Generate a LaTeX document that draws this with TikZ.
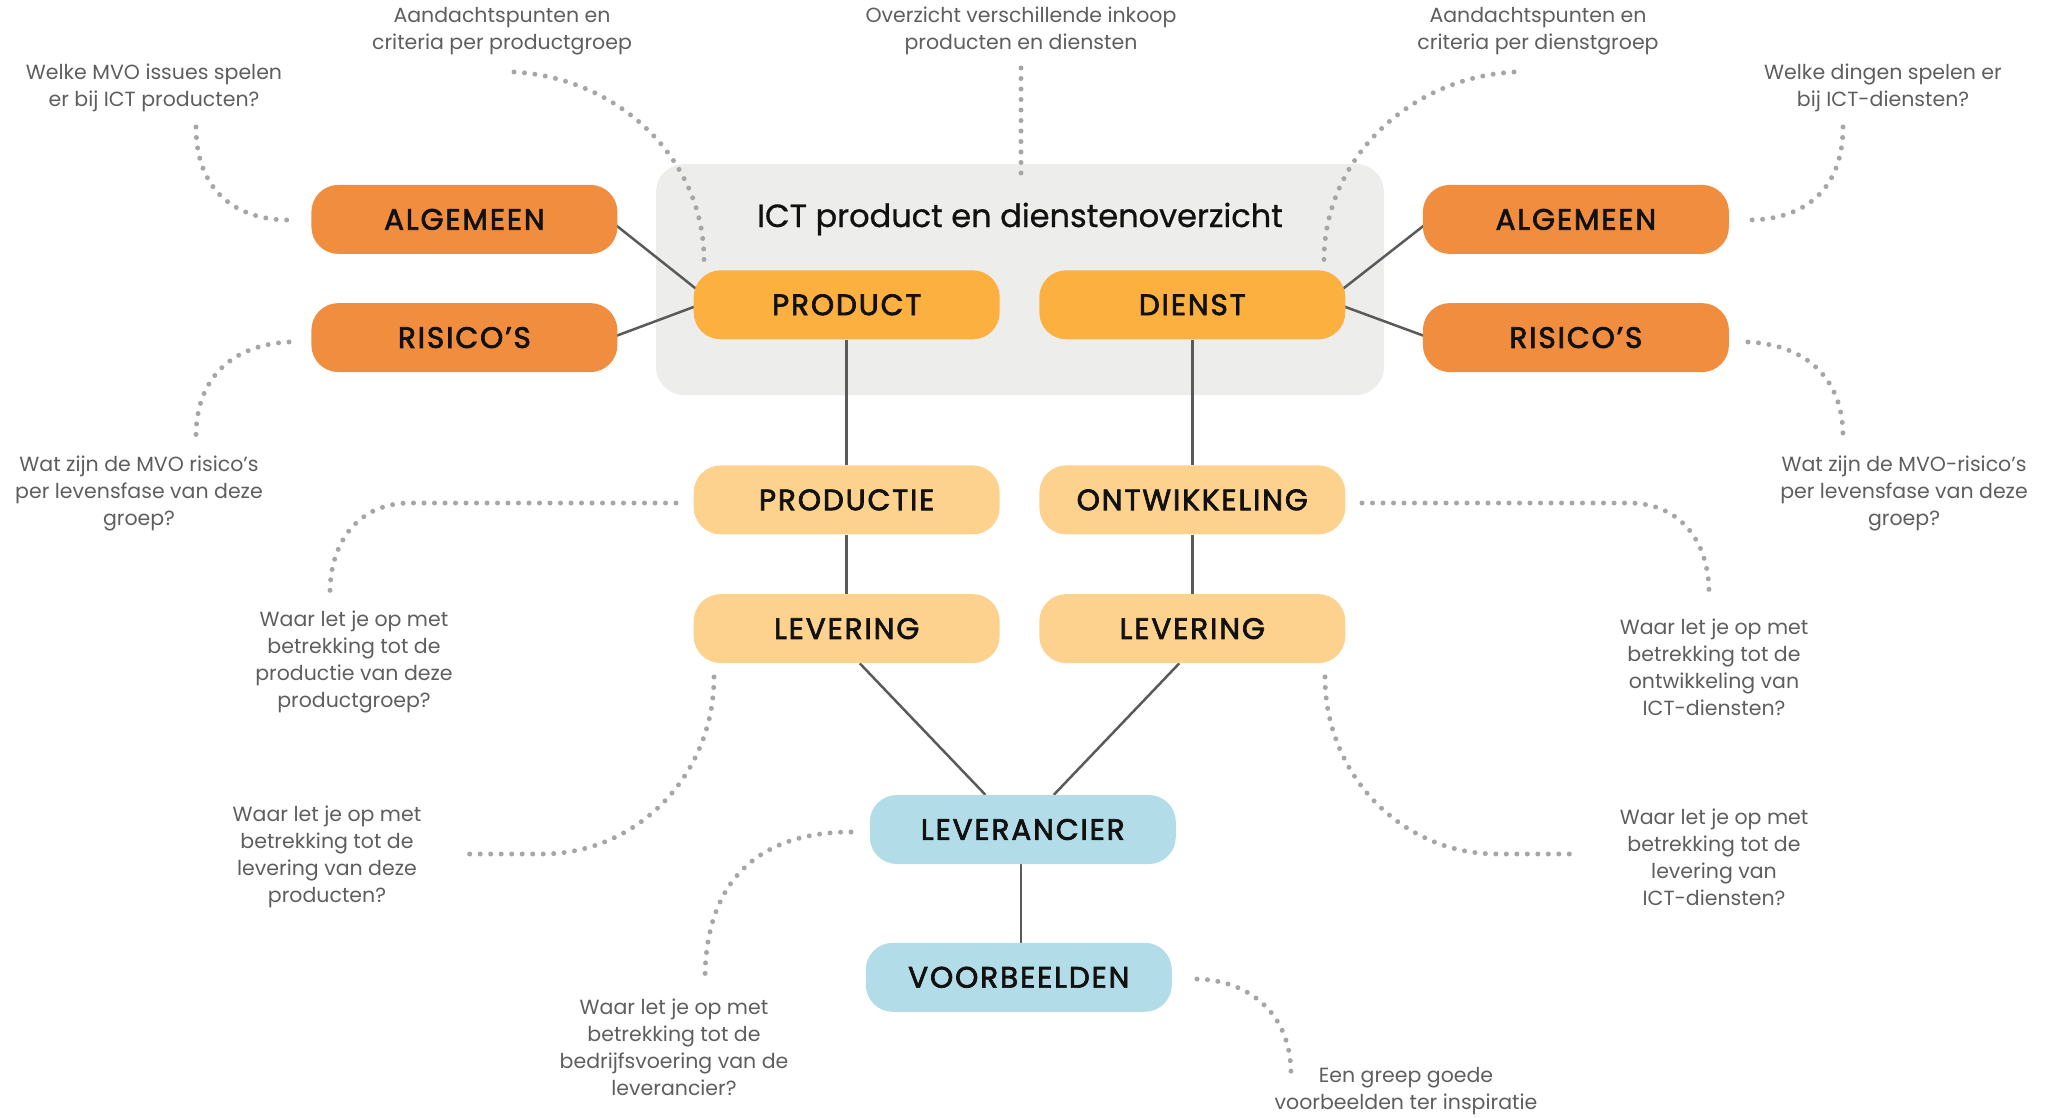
\documentclass[tikz,border=0pt]{standalone}
\usepackage{fontspec}
\setmainfont{Poppins}
\newfontfamily\labelfont{Poppins}[FakeBold=2.4, LetterSpace=6.5]
\newfontfamily\titlefont{Poppins}[FakeBold=0.8]
\usetikzlibrary{calc,backgrounds}
\definecolor{orangeA}{HTML}{F08D3F}
\definecolor{orangeB}{HTML}{FBB040}
\definecolor{orangeC}{HTML}{FDD28F}
\definecolor{blueA}{HTML}{B2DDE8}
\definecolor{greyBg}{HTML}{EDEDEB}
\definecolor{lineC}{HTML}{5A5A5A}
\definecolor{dotC}{HTML}{A6A6A6}
\definecolor{noteC}{HTML}{5E5E5E}
\definecolor{labelC}{HTML}{111111}
\begin{document}
\begin{tikzpicture}[x=1pt,y=-1pt,
  box/.style={rounded corners=27pt, minimum width=306pt, minimum height=69pt, inner sep=0pt,
    font=\labelfont\fontsize{29.5}{33}\selectfont, text=labelC},
  note/.style={align=center, inner sep=0pt, text=noteC, font=\fontsize{20.5}{27}\selectfont},
  link/.style={draw=lineC, line width=2.5pt},
  dots/.style={draw=dotC, line width=5pt, line cap=round, dash pattern=on 0pt off 10.5pt},
]
\path[use as bounding box] (0,0) rectangle (2060,1118);

% boxes
\node[box, fill=orangeA] (algL) at (464.4,219.4) {ALGEMEEN};
\node[box, fill=orangeA] (risL) at (464.4,337.6) {RISICO’S};
\node[box, fill=orangeB] (prod) at (846.7,304.8) {PRODUCT};
\node[box, fill=orangeB] (dien) at (1192.3,304.8) {DIENST};
\node[box, fill=orangeA] (algR) at (1575.9,219.4) {ALGEMEEN};
\node[box, fill=orangeA] (risR) at (1575.9,337.6) {RISICO’S};
\node[box, fill=orangeC] (prodc) at (846.7,499.9) {PRODUCTIE};
\node[box, fill=orangeC] (ontw) at (1192.3,499.9) {ONTWIKKELING};
\node[box, fill=orangeC] (levL) at (846.7,628.6) {LEVERING};
\node[box, fill=orangeC] (levR) at (1192.3,628.6) {LEVERING};
\node[box, fill=blueA] (leva) at (1022.8,829.5) {LEVERANCIER};
\node[box, fill=blueA] (voor) at (1018.8,977.3) {VOORBEELDEN};

\node[text=labelC, font=\titlefont\fontsize{32}{38}\selectfont] (title) at (1020,219) {ICT product en dienstenoverzicht};

% notes
\node[note] (n1) at (154,87.5) {Welke MVO issues spelen\\er bij ICT producten?};
\node[note] (n2) at (502,31) {Aandachtspunten en\\criteria per productgroep};
\node[note] (n3) at (1021,31) {Overzicht verschillende inkoop\\producten en diensten};
\node[note] (n4) at (1538,31) {Aandachtspunten en\\criteria per dienstgroep};
\node[note] (n5) at (1883,87.5) {Welke dingen spelen er\\bij ICT-diensten?};
\node[note] (n6) at (139,493) {Wat zijn de MVO risico’s\\per levensfase van deze\\groep?};
\node[note] (n7) at (1904,493) {Wat zijn de MVO-risico’s\\per levensfase van deze\\groep?};
\node[note] (n8) at (354,661.5) {Waar let je op met\\betrekking tot de\\productie van deze\\productgroep?};
\node[note] (n9) at (327,857) {Waar let je op met\\betrekking tot de\\levering van deze\\producten?};
\node[note] (n10) at (674,1047.5) {Waar let je op met\\betrekking tot de\\bedrijfsvoering van de\\leverancier?};
\node[note] (n11) at (1714,667) {Waar let je op met\\betrekking tot de\\ontwikkeling van\\ICT-diensten?};
\node[note] (n12) at (1714,857) {Waar let je op met\\betrekking tot de\\levering van\\ICT-diensten?};
\node[note] (n13) at (1406,1091) {Een greep goede\\voorbeelden ter inspiratie};

% dotted ends
\coordinate (d1s) at (196,127);   \coordinate (d1e) at (289,220);
\coordinate (d2s) at (514,72);    \coordinate (d2e) at (704,260);
\coordinate (d3s) at (1021,68);   \coordinate (d3e) at (1021,176);
\coordinate (d4s) at (1514,72);   \coordinate (d4e) at (1324,260);
\coordinate (d5s) at (1843,127);  \coordinate (d5e) at (1748,220);
\coordinate (d6s) at (289,342);   \coordinate (d6e) at (196,436);
\coordinate (d7s) at (1748,342);  \coordinate (d7e) at (1843,436);
\coordinate (d8s) at (676,503);   \coordinate (d8e) at (330,593);
\coordinate (d9s) at (1362,503);  \coordinate (d9e) at (1709,593);
\coordinate (d10s) at (714,677);  \coordinate (d10e) at (466,854);
\coordinate (d11s) at (1325,677); \coordinate (d11e) at (1573,854);
\coordinate (d12s) at (851,832);  \coordinate (d12e) at (705,980);
\coordinate (d13s) at (1197,979); \coordinate (d13e) at (1291,1074);

\begin{scope}[on background layer]
  \node[fill=greyBg, rounded corners=28pt, minimum width=728pt, minimum height=231pt, inner sep=0pt] (panel) at (1020,279.5) {};
  % solid connectors
  \draw[link] ($(algL.east)+(-5.7,2.6)$) -- ($(prod.west)+(6.6,-12.8)$);
  \draw[link] ($(risL.east)+(-6,0)$) -- ($(prod.west)+(6,0)$);
  \draw[link] ($(dien.east)+(-6.6,-12.8)$) -- ($(algR.west)+(5.7,2.6)$);
  \draw[link] ($(dien.east)+(-6,0)$) -- ($(risR.west)+(6,0)$);
  \draw[link] (prod.south) -- (prodc.north);
  \draw[link] (prodc.south) -- (levL.north);
  \draw[link] (dien.south) -- (ontw.north);
  \draw[link] (ontw.south) -- (levR.north);
  \draw[link] ($(levL.south)+(13,0)$) -- ($(leva.north)+(-37.4,0)$);
  \draw[link] ($(levR.south)+(-13,0)$) -- ($(leva.north)+(31,0)$);
  \draw[link] ($(leva.south)+(-1.8,0)$) -- ($(leva.south |- voor.north)+(-1.8,0)$);
  % dotted connectors
  \draw[dots] (d1s) .. controls (196,190) and (235,220) .. (d1e);
  \draw[dots] (d2s) .. controls (620,78) and (704,160) .. (d2e);
  \draw[dots] (d3s) -- (d3e);
  \draw[dots] (d4s) .. controls (1408,78) and (1324,160) .. (d4e);
  \draw[dots] (d5s) .. controls (1843,190) and (1804,220) .. (d5e);
  \draw[dots] (d6s) .. controls (230,345) and (196,380) .. (d6e);
  \draw[dots] (d7s) .. controls (1808,345) and (1843,380) .. (d7e);
  \draw[dots] (d8s) -- (410,503) .. controls (360,503) and (330,540) .. (d8e);
  \draw[dots] (d9s) -- (1629,503) .. controls (1679,503) and (1709,540) .. (d9e);
  \draw[dots] (d10s) .. controls (714,775) and (637,854) .. (542,854) -- (d10e);
  \draw[dots] (d11s) .. controls (1325,775) and (1402,854) .. (1497,854) -- (d11e);
  \draw[dots] (d12s) .. controls (770,832) and (705,870) .. (d12e);
  \draw[dots] (d13s) .. controls (1245,980) and (1291,1010) .. (d13e);
\end{scope}
\end{tikzpicture}
\end{document}
